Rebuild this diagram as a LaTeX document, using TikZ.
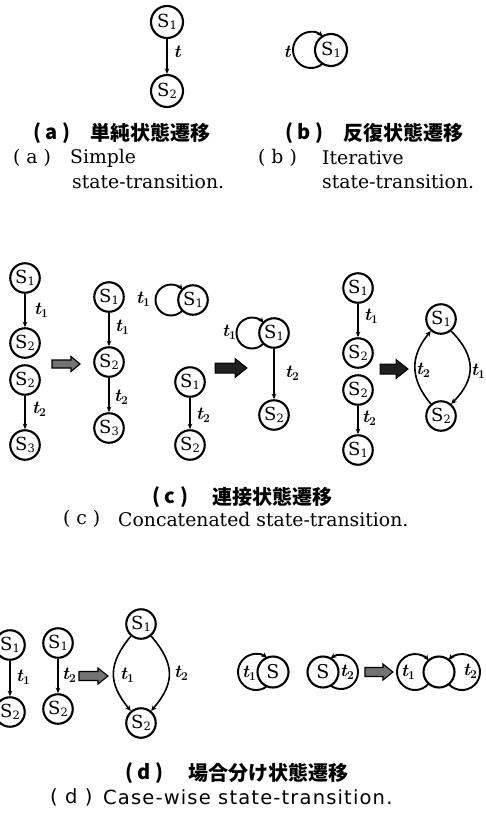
\documentclass[tikz,border=0pt]{standalone}
\usepackage{fontspec}
\usetikzlibrary{arrows.meta,calc}
\newfontfamily\cjk{Noto Sans CJK JP}
\newfontfamily\enserif{DejaVu Serif}
\newfontfamily\ensans[LetterSpace=6]{DejaVu Sans}

% state name S with an index
\newcommand\St[1]{{\enserif\fontsize{18}{18}\selectfont S}\raisebox{-2.5pt}{\enserif\fontsize{11.5}{11.5}\selectfont #1}}
% transition name t with an index
\newcommand\Tl[1]{{\fontsize{18}{18}\selectfont\bfseries\itshape t}\raisebox{-2.5pt}{\fontsize{12}{12}\selectfont\bfseries #1}}

% self-loop on the left of a state: node, centre offset, radius, half angle
\newcommand\leftloop[4]{%
  \draw[looparc] ([shift={({-#2+#3*cos(#4)},{-#3*sin(#4)})}]#1.center)
    arc[start angle={-#4}, end angle={#4-360}, radius=#3];}
% self-loop on the right of a state
\newcommand\rightloop[4]{%
  \draw[looparc] ([shift={({#2-#3*cos(#4)},{-#3*sin(#4)})}]#1.center)
    arc[start angle={#4-180}, end angle={180-#4}, radius=#3];}
% broad block arrow: left x, y, right x, body half height, head half height, head length, style
\newcommand\bigarrow[7]{%
  \draw[#7] (#1,#2+#4) -- (#3-#6,#2+#4) -- (#3-#6,#2+#5) -- (#3,#2)
    -- (#3-#6,#2-#5) -- (#3-#6,#2-#4) -- (#1,#2-#4) -- cycle;}

\tikzset{
  state/.style={circle, draw, line width=2.1pt, minimum size=29.5pt, inner sep=0pt},
  bigstate/.style={state, minimum size=32pt},
  midstate/.style={state, minimum size=31pt},
  trans/.style={line width=1.2pt, -{Stealth[length=5.5pt,width=4.5pt]}},
  looparc/.style={line width=1.9pt, -{Stealth[length=5.5pt,width=5pt]}},
  ringarc/.style={line width=1.6pt, -{Stealth[length=5.5pt,width=5pt]}},
  lab/.style={inner sep=0pt},
  jp/.style={font=\cjk\bfseries\fontsize{20}{20}\selectfont, anchor=west, inner sep=0pt},
  en/.style={font=\enserif\fontsize{18.8}{18.8}\selectfont, anchor=west, inner sep=0pt},
  ensf/.style={font=\ensans\fontsize{19.5}{19.5}\selectfont, anchor=west, inner sep=0pt},
  lightarrow/.style={draw, line width=1.1pt, fill=black!55},
  darkarrow/.style={draw, line width=1pt, fill=black!88}
}

\begin{document}
\begin{tikzpicture}[x=1pt, y=1pt]
\useasboundingbox (0,0) rectangle (485,-814);

% ---- (a) simple transition
\node[bigstate] (a1) at (167,-22) {\St{1}};
\node[bigstate] (a2) at (167,-91) {\St{2}};
\draw[trans] (a1) -- (a2);
\node[lab] (ta) at (177,-53) {\Tl{}};

% ---- (b) iterative transition
\node[bigstate] (b1) at (331,-50) {\St{1}};
\leftloop{b1}{20}{18}{49.5}
\node[lab] (tb) at (287,-53) {\Tl{}};

% captions (a), (b)
\node[jp] (capaj) at (33,-133) {( a )};
\node[jp] (capaj2) at (90,-133) {単純状態遷移};
\node[jp] (capbj) at (285,-133) {( b )};
\node[jp] (capbj2) at (343,-133) {反復状態遷移};
\node[en] (capae) at (13,-158) {( a )};
\node[en] (capae2) at (70,-158) {Simple};
\node[en] (capae3) at (72,-182) {state-transition.};
\node[en] (capbe) at (258,-158) {( b )};
\node[en] (capbe2) at (322,-158) {Iterative};
\node[en] (capbe3) at (322,-182) {state-transition.};

% ---- (c) concatenated transitions
\node[state] (c1) at (25,-278) {\St{1}};
\node[state] (c2) at (25,-343) {\St{2}};
\node[state] (c3) at (25,-380) {\St{2}};
\node[state] (c4) at (25,-445) {\St{3}};
\draw[trans] (c1) -- (c2);
\draw[trans] (c3) -- (c4);
\node[lab] (tc1) at (41,-310) {\Tl{1}};
\node[lab] (tc2) at (39,-409) {\Tl{2}};
\bigarrow{52}{-364}{80}{4}{7.5}{9}{lightarrow}

\node[state] (d1) at (109,-297) {\St{1}};
\node[state] (d2) at (109,-362) {\St{2}};
\node[state] (d3) at (109,-428) {\St{3}};
\draw[trans] (d1) -- (d2);
\draw[trans] (d2) -- (d3);
\node[lab] (td1) at (122,-327) {\Tl{1}};
\node[lab] (td2) at (121,-397) {\Tl{2}};

\node[state] (e1) at (193,-300) {\St{1}};
\leftloop{e1}{22}{15.5}{41.1}
\node[lab] (te1) at (143,-299) {\Tl{1}};
\node[state] (e2) at (190,-382) {\St{1}};
\node[state] (e3) at (190,-445) {\St{2}};
\draw[trans] (e2) -- (e3);
\node[lab] (te2) at (203,-415) {\Tl{2}};
\bigarrow{215}{-368}{247}{5}{9.5}{12}{darkarrow}

\node[state] (f1) at (274,-333) {\St{1}};
\leftloop{f1}{22}{15.5}{41.1}
\node[lab] (tf1) at (229,-332) {\Tl{1}};
\node[state] (f2) at (274,-415) {\St{2}};
\draw[trans] (f1) -- (f2);
\node[lab] (tf2) at (292,-373) {\Tl{2}};
\bigarrow{380}{-369}{408}{5}{9.5}{12}{darkarrow}

\node[state] (g1) at (358,-288) {\St{1}};
\node[state] (g2) at (358,-353) {\St{2}};
\node[state] (g3) at (358,-390) {\St{2}};
\node[state] (g4) at (358,-450) {\St{1}};
\draw[trans] (g1) -- (g2);
\draw[trans] (g3) -- (g4);
\node[lab] (tg1) at (371,-316) {\Tl{1}};
\node[lab] (tg2) at (369,-418) {\Tl{2}};

\node[state] (h1) at (441,-319) {\St{1}};
\node[state] (h2) at (441,-416) {\St{2}};
\draw[ringarc] (h2.130) .. controls +(-21,25) and +(-21,-25) .. (h1.230);
\draw[ringarc] (h1.310) .. controls +(25,-25) and +(25,25) .. (h2.50);
\node[lab] (th2) at (423,-370) {\Tl{2}};
\node[lab] (th1) at (478,-371) {\Tl{1}};

% caption (c)
\node[jp] (capcj) at (152,-497) {( c )};
\node[jp] (capcj2) at (212,-497) {連接状態遷移};
\node[en] (capce) at (63,-519) {( c )};
\node[en] (capce2) at (118,-519) {Concatenated state-transition.};

% ---- (d) case-wise transitions
\node[state] (i1) at (10,-645) {\St{1}};
\node[state] (i2) at (10,-712) {\St{2}};
\draw[trans] (i1) -- (i2);
\node[lab] (ti) at (23,-677) {\Tl{1}};
\node[state] (j1) at (58,-643) {\St{1}};
\node[state] (j2) at (58,-709) {\St{2}};
\draw[trans] (j1) -- (j2);
\node[lab] (tj) at (69,-675) {\Tl{2}};
\bigarrow{79}{-676}{108}{4.5}{8}{10}{lightarrow}

\node[state] (k1) at (141,-624) {\St{1}};
\node[state] (k2) at (141,-723) {\St{2}};
\draw[ringarc] (k1.230) .. controls +(-23,-28) and +(-23,28) .. (k2.130);
\draw[ringarc] (k1.310) .. controls +(24,-28) and +(24,28) .. (k2.50);
\node[lab] (tk1) at (127,-675) {\Tl{1}};
\node[lab] (tk2) at (181,-673) {\Tl{2}};

\node[midstate] (l1) at (273,-672) {{\enserif\fontsize{19}{19}\selectfont S}};
\leftloop{l1}{17}{18}{52.5}
\node[lab] (tl) at (249,-673) {\Tl{1}};
\node[midstate] (m1) at (323,-672) {{\enserif\fontsize{19}{19}\selectfont S}};
\rightloop{m1}{18}{17}{52.5}
\node[lab] (tm) at (347,-672) {\Tl{2}};
\bigarrow{365}{-672}{393}{4.5}{8}{10}{lightarrow}

\node[midstate] (n1) at (439,-672) {};
\leftloop{n1}{24}{18}{40.2}
\rightloop{n1}{23}{18}{42.3}
\node[lab] (tn1) at (408,-672) {\Tl{1}};
\node[lab] (tn2) at (470,-671) {\Tl{2}};

% caption (d)
\node[jp] (capdj) at (125,-773) {( d )};
\node[jp] (capdj2) at (188,-773) {場合分け状態遷移};
\node[ensf] (capde) at (50,-797) {( d )};
\node[ensf] (capde2) at (103,-797) {Case-wise state-transition.};
\end{tikzpicture}
\end{document}
